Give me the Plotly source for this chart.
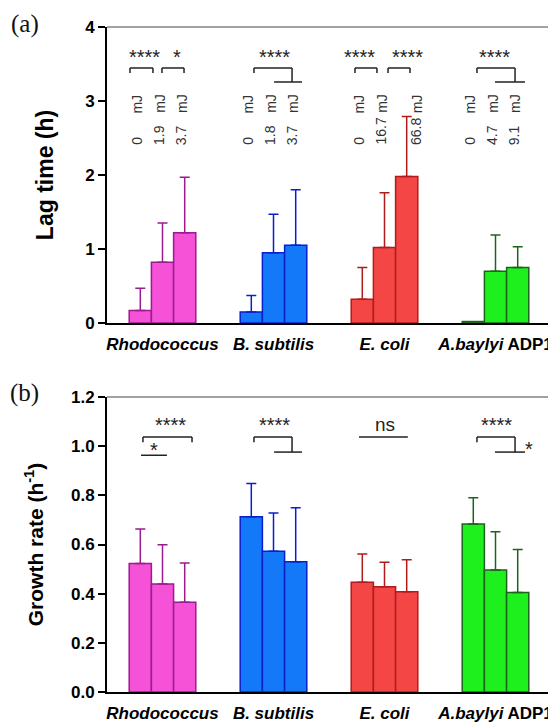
import plotly.graph_objects as go

# ---------------- data ----------------
categories = ["Rhodococcus", "B. subtilis", "E. coli", "A.baylyi ADP1"]
tick_labels = ["<i>Rhodococcus</i>", "<i>B. subtilis</i>", "<i>E. coli</i>", "<i>A.baylyi</i> ADP1"]
doses = [["0", "1.9", "3.7"], ["0", "1.8", "3.7"], ["0", "16.7", "66.8"], ["0", "4.7", "9.1"]]

lag_mean = [[0.17, 0.82, 1.22], [0.15, 0.95, 1.05], [0.32, 1.02, 1.98], [0.02, 0.70, 0.75]]
lag_err = [[0.30, 0.53, 0.75], [0.22, 0.52, 0.75], [0.43, 0.74, 0.81], [0.0, 0.49, 0.28]]
growth_mean = [[0.523, 0.439, 0.365], [0.713, 0.573, 0.530], [0.446, 0.428, 0.408], [0.683, 0.496, 0.405]]
growth_err = [[0.14, 0.16, 0.16], [0.135, 0.155, 0.22], [0.115, 0.10, 0.13], [0.107, 0.156, 0.175]]

lag_ticks = [0, 1, 2, 3, 4]
growth_ticks = [0.0, 0.2, 0.4, 0.6, 0.8, 1.0, 1.2]

# ---------------- styles ----------------
fills = ["#F552D8", "#1479F8", "#F54646", "#1EF01E"]
edges = ["#9A1C8E", "#0B1ECC", "#B01C1C", "#1C641C"]
SANS = "Liberation Sans, Arial, sans-serif"
SERIF = "Liberation Serif, Times New Roman, serif"

fig = go.Figure()

for means, errs, xa, ya in [(lag_mean, lag_err, "x", "y"), (growth_mean, growth_err, "x2", "y2")]:
    for c, cat in enumerate(categories):
        for d in range(3):
            fig.add_trace(go.Bar(
                x=[cat], y=[means[c][d]], offsetgroup=str(d),
                xaxis=xa, yaxis=ya, showlegend=False,
                marker=dict(color=fills[c], line=dict(color=edges[c], width=1.5)),
                error_y=dict(type="data", array=[errs[c][d]], arrayminus=[0], symmetric=False,
                             visible=errs[c][d] > 0, color=edges[c], thickness=1.5, width=5),
            ))

shapes = []
annotations = []


def line(x0, y0, x1, y1, xr, yr):
    shapes.append(dict(type="line", x0=x0, y0=y0, x1=x1, y1=y1, xref=xr, yref=yr,
                       line=dict(color="#222", width=1.5)))


def open_bracket(xl, xr_, ytop, ytick, xref, yref):
    line(xl, ytick, xl, ytop, xref, yref)
    line(xl, ytop, xr_, ytop, xref, yref)
    line(xr_, ytop, xr_, ytick, xref, yref)


def step_bracket(xl, xr_, xb0, xb1, ytop, ytick, ylow, xref, yref):
    line(xl, ytick, xl, ytop, xref, yref)
    line(xl, ytop, xr_, ytop, xref, yref)
    line(xr_, ytop, xr_, ylow, xref, yref)
    line(xb0, ylow, xb1, ylow, xref, yref)


def label(x, y, text, xref, yref, size=20):
    annotations.append(dict(x=x, y=y, text=text, xref=xref, yref=yref, showarrow=False,
                            font=dict(family=SANS, size=size, color="#222"),
                            xanchor="center", yanchor="middle"))


# ---- panel (a) significance ----
YT, YK, YL, YS = 3.446, 3.38, 3.257, 3.60
open_bracket(-0.293, -0.086, YT, YK, "x", "y")
open_bracket(-0.005, 0.194, YT, YK, "x", "y")
open_bracket(1.734, 1.932, YT, YK, "x", "y")
open_bracket(2.032, 2.230, YT, YK, "x", "y")
step_bracket(0.824, 1.167, 1.005, 1.257, YT, YK, YL, "x", "y")
step_bracket(2.833, 3.176, 2.995, 3.266, YT, YK, YL, "x", "y")
for xs, t in [(-0.162, "****"), (0.13, "*"), (1.005, "****"), (1.779, "****"), (2.207, "****"), (2.995, "****")]:
    label(xs, YS, t, "x", "y")

# dose labels (panel a)
for c in range(4):
    for d in range(3):
        xpos = c + (d - 1) * 0.2 - 0.03
        if c == 2 and d == 2:
            xpos += 0.12
        annotations.append(dict(x=xpos, y=2.38, text=doses[c][d], xref="x", yref="y", showarrow=False,
                                textangle=-90, xanchor="center", yanchor="bottom",
                                font=dict(family=SANS, size=14, color="#333")))
        annotations.append(dict(x=xpos, y=3.12, text="mJ", xref="x", yref="y", showarrow=False,
                                textangle=-90, xanchor="center", yanchor="top",
                                font=dict(family=SANS, size=14, color="#333")))

# ---- panel (b) significance ----
BT, BK, BL, BS = 1.037, 1.016, 0.976, 1.085
open_bracket(-0.176, 0.266, BT, BK, "x2", "y2")
line(-0.194, 0.963, 0.04, 0.963, "x2", "y2")
label(-0.077, 0.985, "*", "x2", "y2")
label(0.068, BS, "****", "x2", "y2")
step_bracket(0.824, 1.167, 1.005, 1.257, BT, BK, BL, "x2", "y2")
label(1.005, BS, "****", "x2", "y2")
line(1.77, BT, 2.21, BT, "x2", "y2")
label(2.005, 1.09, "ns", "x2", "y2", size=19)
step_bracket(2.833, 3.176, 2.995, 3.266, BT, BK, BL, "x2", "y2")
label(3.005, BS, "****", "x2", "y2")
label(3.30, 0.99, "*", "x2", "y2")

# frame top/right thin lines
for xr, yr in [("x domain", "y domain"), ("x2 domain", "y2 domain")]:
    shapes.append(dict(type="line", x0=0, y0=1, x1=1, y1=1, xref=xr, yref=yr, line=dict(color="#444", width=1)))
    shapes.append(dict(type="line", x0=1, y0=0, x1=1, y1=1, xref=xr, yref=yr, line=dict(color="#444", width=1)))

# panel letters
annotations.append(dict(x=-0.185, y=1.004, xref="paper", yref="paper", text="(a)", showarrow=False,
                        font=dict(family=SERIF, size=25, color="#111"), xanchor="center", yanchor="middle"))
annotations.append(dict(x=-0.185, y=0.45, xref="paper", yref="paper", text="(b)", showarrow=False,
                        font=dict(family=SERIF, size=25, color="#111"), xanchor="center", yanchor="middle"))

xcommon = dict(type="category", categoryorder="array", categoryarray=categories,
               tickvals=categories, ticktext=tick_labels, range=[-0.5, 3.5],
               showline=True, linecolor="black", linewidth=2, ticks="", showgrid=False, zeroline=False,
               tickfont=dict(family=SANS, size=17, color="black", weight="bold"),
               ticklabelstandoff=5, automargin=False)
ycommon = dict(showline=True, linecolor="black", linewidth=2, ticks="outside", ticklen=7, tickwidth=1.5,
               tickcolor="black", showgrid=False, zeroline=False, automargin=False,
               tickfont=dict(family=SANS, size=17, color="black", weight="bold"))

# page body adds an 8px offset, so the figure is sized 8px smaller on each dimension
fig.update_layout(
    width=548, height=716,
    margin=dict(l=99, r=5, t=19, b=32),
    paper_bgcolor="white", plot_bgcolor="white",
    barmode="group", bargap=0.4, bargroupgap=0,
    xaxis=dict(**xcommon, domain=[0, 1], anchor="y"),
    yaxis=dict(**ycommon, domain=[0.5549, 1], anchor="x", range=[0, 4], tickvals=lag_ticks,
               title=dict(text="Lag time (h)", standoff=25,
                          font=dict(family=SANS, size=23, color="black", weight="bold"))),
    xaxis2=dict(**xcommon, domain=[0, 1], anchor="y2"),
    yaxis2=dict(**ycommon, domain=[0, 0.4436], anchor="x2", range=[0, 1.2], tickvals=growth_ticks,
                tickformat=".1f",
                title=dict(text="Growth rate (h<sup>-1</sup>)", standoff=22,
                           font=dict(family=SANS, size=21, color="black", weight="bold"))),
    shapes=shapes, annotations=annotations,
)

fig.write_html("out.html")
